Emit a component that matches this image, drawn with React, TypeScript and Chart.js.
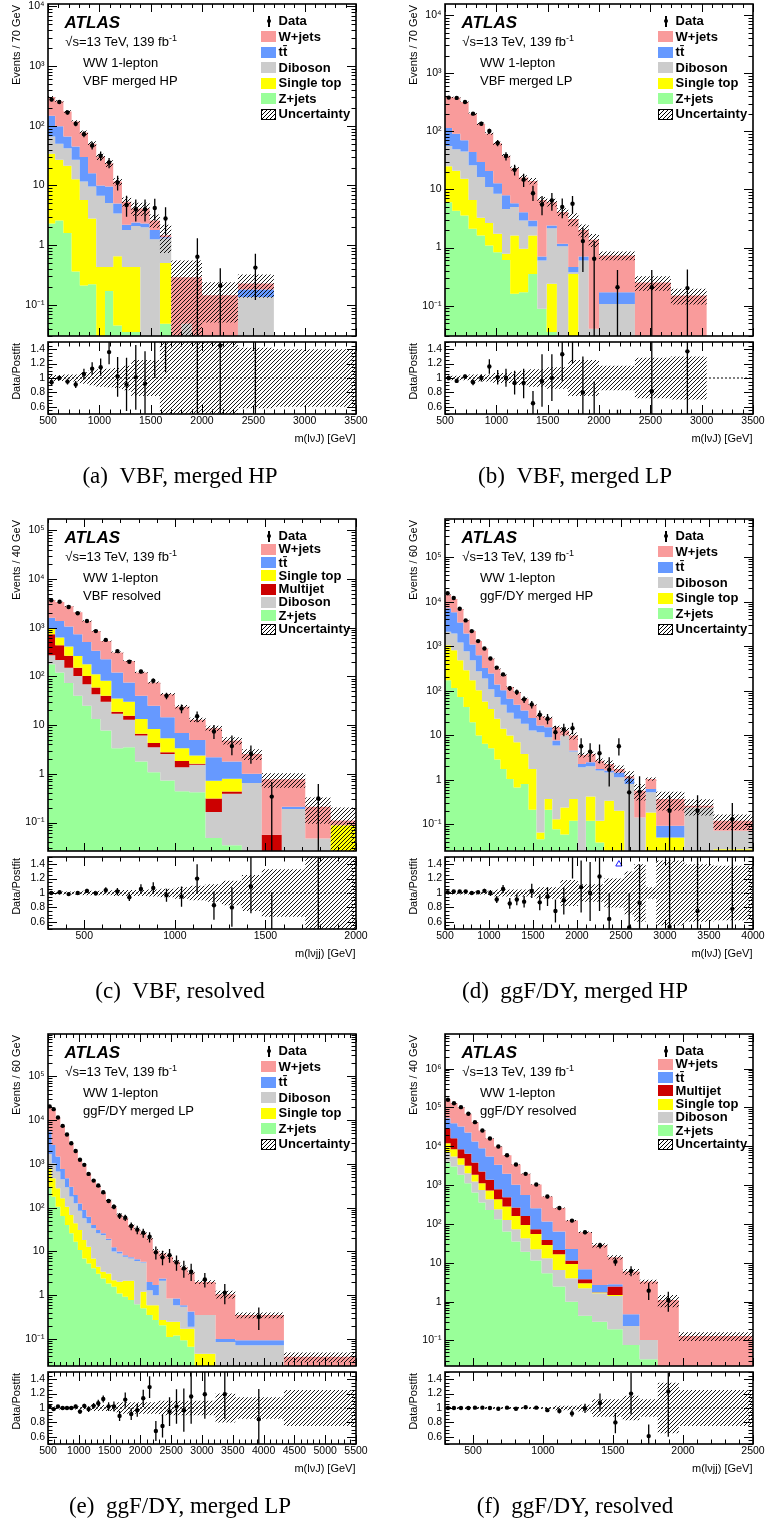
import React, { useEffect, useRef } from 'react';
import { Chart, registerables } from 'chart.js';

Chart.register(...registerables);

const SANS = "'Liberation Sans', Arial, Helvetica, sans-serif";
const SERIF = "'Liberation Serif', 'Times New Roman', Times, serif";
Chart.defaults.font.family = SANS;

const COLORS = {
  wjets: '#f99b9b',
  ttbar: '#6699ff',
  diboson: '#cccccc',
  stop: '#ffff00',
  zjets: '#99ff99',
  multijet: '#cc0000',
};

// ---------------- tick labels ----------------
const ratioYTicks = [0.6, 0.8, 1, 1.2, 1.4];
const xTicksAB = [500, 1000, 1500, 2000, 2500, 3000, 3500];
const xTicksC = [500, 1000, 1500, 2000];
const xTicksD = [500, 1000, 1500, 2000, 2500, 3000, 3500, 4000];
const xTicksE = [500, 1000, 1500, 2000, 2500, 3000, 3500, 4000, 4500, 5000, 5500];
const xTicksF = [500, 1000, 1500, 2000, 2500];

// ---------------- (a) VBF merged HP ----------------
// stacked (cumulative) heights, bottom -> top
const aEdges = [500, 570, 650, 730, 810, 890, 970, 1055, 1135, 1220, 1310, 1400, 1490, 1590, 1700, 1800, 1900, 2000, 2350, 2700, 3500];
const aZjets = [2.3, 2.6, 1.6, 0.36, 0.21, 0.22, 0.02, 0.17, 0.045, 0.035, 0.035, 0.02, 0.02, 0.048, 0.02, 0.02, 0.02, 0.02, 0.02, 0.01];
const aStop = [34, 27, 21.5, 12.7, 5.7, 2.8, 0.43, 0.43, 0.65, 0.43, 0.43, 0.02, 0.02, 0.5, 0.02, 0.02, 0.02, 0.02, 0.02, 0.01];
const aDiboson = [66, 50, 42, 27, 11.6, 9.6, 6.7, 5.1, 3.4, 1.8, 2.1, 2.0, 1.25, 1.3, 0.02, 0.048, 0.02, 0.02, 0.135, 0.01];
const aTtbar = [147, 98, 66, 45, 30, 16, 10, 9.6, 5, 2.2, 2.4, 2.3, 1.8, 1.35, 0.02, 0.048, 0.02, 0.02, 0.18, 0.01];
const aWjets = [303, 257, 174, 118, 77, 50, 30.5, 23.5, 11.6, 5.35, 4.1, 4.1, 2.6, 1.47, 0.29, 0.29, 0.29, 0.145, 0.227, 0.01];
const aRel = [0.04, 0.04, 0.05, 0.05, 0.08, 0.1, 0.12, 0.13, 0.14, 0.17, 0.25, 0.25, 0.25, 0.5, 0.9, 0.9, 0.9, 0.65, 0.42, 0.4];
const aDataX = [535, 610, 690, 770, 850, 930, 1013, 1095, 1178, 1265, 1355, 1445, 1540, 1645, 1955, 2178, 2520];
const aDataY = [275, 251, 167, 108, 72.5, 46.8, 31.3, 24.2, 11.2, 4.7, 4.0, 4.0, 4.2, 2.8, 0.64, 0.21, 0.42];
const aDataLo = [258, 235, 154, 98, 64, 40, 26, 19.5, 8.2, 3.0, 2.5, 2.5, 2.6, 1.5, 0.01, 0.01, 0.12];
const aDataHi = [292, 267, 180, 118, 81, 54, 37, 29, 14.5, 6.7, 5.8, 5.8, 6.0, 4.3, 1.3, 0.41, 0.72];
const aRatio = [0.94, 1.0, 0.95, 0.91, 1.055, 1.13, 1.15, 1.36, 1.02, 0.91, 1.01, 0.92, 1.9, 1.9, 2.2, 1.45, 1.85];
const aRatioLo = [0.9, 0.97, 0.91, 0.86, 0.98, 1.04, 1.03, 1.19, 0.74, 0.54, 0.56, 0.47, 1.0, 1.08, 0.0, 0.0, 0.0];
const aRatioHi = [0.98, 1.03, 0.99, 0.96, 1.13, 1.22, 1.27, 1.53, 1.29, 1.28, 1.46, 1.37, 2.8, 2.9, 4.5, 2.8, 3.2];

// ---------------- (b) VBF merged LP ----------------
const bEdges = [500, 570, 650, 730, 810, 890, 970, 1055, 1135, 1220, 1310, 1400, 1490, 1590, 1700, 1800, 1900, 2000, 2350, 2700, 3050];
const bZjets = [6.0, 4.3, 3.56, 2.1, 1.61, 1.08, 0.83, 0.61, 0.16, 0.17, 0.35, 0.088, 0.035, 0.02, 0.02, 0.02, 0.02, 0.02, 0.02, 0.02];
const bStop = [25, 21, 15.2, 6.6, 3.25, 2.63, 1.72, 0.78, 1.61, 0.95, 1.61, 0.088, 0.237, 0.02, 0.35, 0.02, 0.02, 0.02, 0.02, 0.02];
const bDiboson = [56, 49, 45, 26, 16.3, 11, 8.4, 4.6, 5.0, 2.92, 2.3, 0.6, 2.15, 1.05, 0.375, 0.6, 0.04, 0.107, 0.02, 0.02];
const bTtbar = [114, 91, 70, 44, 29.5, 20.7, 12.8, 7.9, 5.8, 4.06, 2.92, 0.7, 2.4, 1.16, 0.46, 0.7, 0.04, 0.17, 0.02, 0.02];
const bWjets = [390, 380, 320, 200, 135, 92, 62, 38, 23, 16, 14, 6.6, 6.0, 4.1, 3.1, 2.0, 1.36, 0.73, 0.25, 0.15];
const bRel = [0.03, 0.03, 0.03, 0.05, 0.05, 0.05, 0.07, 0.07, 0.08, 0.1, 0.12, 0.12, 0.15, 0.15, 0.25, 0.25, 0.25, 0.17, 0.28, 0.3];
const bDataX = [536, 614, 695, 773, 854, 932, 1013, 1094, 1178, 1266, 1357, 1445, 1541, 1642, 1742, 1843, 1953, 2180, 2514, 2861];
const bDataY = [380, 375, 320, 201, 135, 101, 63, 37.5, 21.8, 14.7, 8.6, 5.5, 6.45, 5.0, 5.66, 1.29, 0.64, 0.207, 0.207, 0.2];
const bDataLo = [362, 357, 303, 188, 124, 91, 55, 31.5, 17.3, 11, 6.3, 3.6, 4.3, 3.2, 3.8, 0.38, 0.01, 0.01, 0.01, 0.01];
const bDataHi = [398, 393, 337, 215, 146, 111, 71, 43.5, 26.5, 18.5, 11.5, 7.7, 8.7, 7.0, 7.7, 2.2, 1.3, 0.41, 0.41, 0.42];
const bRatio = [1.0, 0.96, 1.02, 0.94, 1.0, 1.16, 1.01, 1.0, 0.93, 0.93, 0.65, 0.955, 1.0, 1.33, 1.83, 0.8, 0.47, 0.28, 0.815, 1.37];
const bRatioLo = [0.97, 0.93, 0.99, 0.9, 0.95, 1.06, 0.91, 0.88, 0.77, 0.72, 0.48, 0.6, 0.68, 0.95, 1.2, 0.3, 0.0, 0.0, 0.0, 0.0];
const bRatioHi = [1.03, 0.99, 1.05, 0.98, 1.05, 1.26, 1.11, 1.13, 1.1, 1.13, 0.82, 1.33, 1.33, 1.9, 2.5, 1.3, 0.95, 0.56, 1.6, 2.7];

// ---------------- (c) VBF resolved ----------------
const cEdges = [300, 340, 390, 440, 490, 540, 590, 650, 715, 780, 850, 920, 1000, 1080, 1170, 1260, 1370, 1480, 1590, 1720, 1860, 2000];
const cZjets = [178, 120, 73, 40, 25, 13.4, 7.7, 3.35, 3.5, 1.79, 1.08, 0.73, 0.44, 0.42, 0.048, 0.034, 0.015, 0.015, 0.015, 0.015, 0.015];
const cDiboson = [270, 217, 150, 102, 69, 43, 30, 17, 12.9, 6.1, 3.5, 2.56, 1.37, 1.53, 0.165, 0.39, 0.65, 0.015, 0.19, 0.047, 0.015];
const cMultijet = [730, 435, 265, 150, 102, 59, 40, 18.8, 15.6, 6.6, 4.3, 2.77, 1.82, 1.6, 0.31, 0.435, 0.65, 0.056, 0.19, 0.047, 0.015];
const cStop = [950, 625, 410, 262, 178, 111, 81, 35, 30, 13.4, 8.3, 5.35, 3.35, 2.37, 0.72, 0.79, 0.65, 0.056, 0.19, 0.047, 0.088];
const cTtbar = [1590, 1370, 1050, 730, 510, 335, 225, 120, 75, 40, 25, 14.5, 6.9, 4.96, 2.19, 1.79, 1.0, 0.056, 0.21, 0.047, 0.088];
const cWjets = [3700, 3350, 2750, 2080, 1370, 855, 535, 310, 207, 120, 75, 43, 23.8, 12.9, 8.6, 4.8, 2.56, 0.77, 0.77, 0.21, 0.11];
const cRel = [0.02, 0.02, 0.02, 0.02, 0.03, 0.03, 0.03, 0.04, 0.04, 0.04, 0.05, 0.06, 0.08, 0.1, 0.12, 0.17, 0.25, 0.33, 0.33, 0.55, 0.85];
const cDataX = [318, 364, 414, 464, 515, 564, 619, 683, 749, 813, 881, 954, 1037, 1123, 1216, 1315, 1420, 1535, 1792];
const cDataY = [3650, 3390, 2660, 1980, 1370, 850, 560, 330, 200, 126, 81, 40, 22, 15.2, 7.4, 3.7, 2.57, 0.34, 0.31];
const cDataLo = [3590, 3330, 2610, 1935, 1333, 821, 536, 312, 186, 115, 72, 34, 17.5, 11.4, 5.2, 2.4, 1.6, 0.01, 0.01];
const cDataHi = [3710, 3450, 2710, 2025, 1407, 879, 584, 348, 214, 137, 90, 46, 26.5, 19, 10, 6.1, 3.8, 0.68, 0.62];
const cRatio = [1.0, 1.01, 0.985, 1.0, 1.03, 0.995, 1.04, 1.02, 0.94, 1.055, 1.07, 0.97, 0.95, 1.2, 0.83, 0.8, 1.09, 0.44, 1.55];
const cRatioLo = [0.98, 0.99, 0.965, 0.98, 1.0, 0.965, 1.0, 0.97, 0.89, 0.99, 0.99, 0.88, 0.81, 0.99, 0.63, 0.53, 0.72, 0.0, 0.0];
const cRatioHi = [1.02, 1.03, 1.005, 1.02, 1.06, 1.025, 1.08, 1.07, 0.99, 1.12, 1.15, 1.06, 1.09, 1.4, 1.02, 1.08, 1.5, 1.01, 3.0];

// ---------------- (d) ggF/DY merged HP ----------------
const dEdges = [500, 570, 640, 710, 780, 850, 920, 990, 1060, 1130, 1200, 1280, 1360, 1450, 1540, 1630, 1720, 1810, 1910, 2010, 2100, 2210, 2310, 2420, 2540, 2650, 2780, 2900, 3220, 3550, 4000];
const dZjets = [171, 115, 72, 43, 19.6, 9.8, 6.4, 5.1, 2.83, 1.74, 1.035, 0.67, 0.8, 0.21, 0.046, 0.21, 0.077, 0.059, 0.119, 0.015, 0.119, 0.0386, 0.015, 0.015, 0.015, 0.015, 0.015, 0.015, 0.015, 0.015];
const dStop = [1050, 813, 483, 287, 171, 102, 57, 39, 23.4, 13.9, 9.8, 6.95, 3.79, 1.74, 0.065, 0.37, 0.13, 0.238, 0.37, 0.015, 0.42, 0.119, 0.336, 0.2, 0.015, 0.015, 0.183, 0.05, 0.015, 0.0273];
const dDiboson = [2100, 1930, 1210, 771, 483, 273, 187, 107, 72, 48, 32, 23.4, 18, 12.7, 11.7, 9.0, 5.85, 9.8, 4.28, 1.9, 2.0, 1.6, 1.46, 1.13, 0.8, 0.141, 0.52, 0.05, 0.238, 0.071];
const dTtbar = [7080, 5750, 3420, 1930, 1090, 627, 324, 242, 137, 102, 66, 48, 36, 24.2, 16.5, 15.1, 7.6, 9.8, 4.5, 2.25, 2.46, 1.74, 1.6, 1.46, 1.07, 0.141, 0.62, 0.092, 0.238, 0.071];
const dWjets = [14130, 11490, 6840, 3850, 2180, 1300, 886, 527, 313, 222, 121, 93, 66, 48, 26.8, 24.2, 15.1, 12.7, 9.8, 3.6, 3.79, 2.68, 2.25, 1.74, 1.19, 0.565, 1.035, 0.37, 0.26, 0.119];
const dRel = [0.02, 0.02, 0.02, 0.02, 0.02, 0.02, 0.02, 0.03, 0.05, 0.05, 0.05, 0.05, 0.05, 0.05, 0.08, 0.08, 0.08, 0.18, 0.18, 0.12, 0.12, 0.12, 0.2, 0.2, 0.3, 0.4, 0.08, 0.45, 0.4, 0.38];
const dDataX = [530, 599, 667, 735, 804, 876, 948, 1016, 1088, 1160, 1236, 1316, 1399, 1486, 1577, 1665, 1755, 1850, 1949, 2047, 2149, 2256, 2366, 2476, 2593, 2711, 3052, 3370, 3765];
const dDataY = [15400, 12100, 6950, 3790, 2180, 1300, 886, 527, 330, 233, 113, 93, 63.8, 49.2, 28.7, 23.4, 11.7, 13.4, 14.4, 5.65, 4.28, 3.93, 1.68, 5.65, 0.52, 0.54, 0.2, 0.2, 0.13];
const dDataLo = [15200, 11900, 6820, 3700, 2110, 1250, 845, 495, 305, 212, 99, 80, 53, 40, 22, 17.5, 8, 9.5, 10.5, 3.5, 2.5, 2.3, 0.7, 3.5, 0.01, 0.01, 0.01, 0.01, 0.01];
const dDataHi = [15600, 12300, 7080, 3880, 2250, 1350, 927, 559, 355, 254, 127, 106, 75, 59, 36, 30, 16, 18, 19, 8.5, 6.6, 6.2, 3.2, 8.5, 1.2, 1.2, 0.45, 0.45, 0.3];
const dRatio = [1.01, 1.02, 1.02, 1.02, 1.0, 1.01, 1.03, 1.0, 0.91, 1.055, 0.855, 0.91, 0.88, 1.03, 0.87, 0.95, 0.75, 0.9, 1.55, 1.08, 1.0, 1.23, 0.64, 3.2, 0.52, 0.86, 0.53, 0.75, 0.78];
const dRatioLo = [1.0, 1.01, 1.01, 1.0, 0.98, 0.99, 1.0, 0.96, 0.86, 1.0, 0.78, 0.83, 0.8, 0.93, 0.76, 0.82, 0.59, 0.7, 1.2, 0.73, 0.61, 0.75, 0.5, 2.0, 0.0, 0.0, 0.0, 0.0, 0.0];
const dRatioHi = [1.02, 1.03, 1.03, 1.04, 1.02, 1.03, 1.06, 1.04, 0.96, 1.11, 0.93, 0.99, 0.96, 1.13, 0.98, 1.08, 0.91, 1.08, 1.9, 1.45, 1.43, 1.49, 1.0, 4.0, 1.0, 1.4, 1.5, 1.5, 1.5];
const dArrowX = [2476];
const dArrowY = [1.4];

// ---------------- (e) ggF/DY merged LP ----------------
const eEdges = [500, 560, 625, 700, 775, 845, 915, 985, 1055, 1125, 1200, 1280, 1355, 1440, 1530, 1615, 1710, 1800, 1900, 2000, 2100, 2200, 2300, 2420, 2530, 2645, 2765, 2880, 3220, 3540, 4330, 5500];
const eZjets = [300, 178, 105, 64, 40, 26, 16.6, 10.7, 6.9, 5.3, 4.1, 3.1, 2.4, 1.85, 1.55, 1.09, 0.92, 0.77, 0.62, 0.5, 0.35, 0.27, 0.205, 0.11, 0.12, 0.093, 0.066, 0.015, 0.015, 0.015, 0.015];
const eStop = [795, 470, 277, 164, 105, 68, 43.8, 30.8, 18.2, 12.8, 6.9, 4.46, 3.42, 3.13, 2.2, 2.02, 2.13, 2.13, 0.62, 1.19, 0.59, 0.59, 0.27, 0.245, 0.245, 0.17, 0.17, 0.046, 0.015, 0.015, 0.015];
const eDiboson = [1690, 1035, 667, 446, 292, 179, 126, 85, 57, 43.8, 33.6, 25.8, 23.7, 18.2, 10, 9.0, 7.55, 6.9, 6.0, 5.6, 1.3, 1.0, 2.13, 0.84, 0.59, 0.54, 0.19, 0.35, 0.085, 0.072, 0.015];
const eTtbar = [5500, 2700, 1470, 760, 470, 300, 195, 125, 88, 62, 40, 31, 26, 19.5, 12.5, 10, 8.2, 7.3, 6.6, 5.8, 2.0, 1.7, 2.4, 0.84, 0.84, 0.59, 0.42, 0.35, 0.1, 0.093, 0.015];
const eWjets = [20000, 17500, 11200, 7200, 4600, 2900, 1950, 1250, 920, 600, 410, 310, 220, 145, 102, 68, 58, 40, 32, 26, 20, 10.5, 9.0, 7.5, 5.8, 4.3, 3.3, 2.0, 1.05, 0.35, 0.039];
const eRel = [0.02, 0.02, 0.02, 0.02, 0.02, 0.02, 0.02, 0.02, 0.02, 0.02, 0.04, 0.04, 0.04, 0.04, 0.04, 0.08, 0.08, 0.08, 0.08, 0.08, 0.08, 0.08, 0.1, 0.1, 0.1, 0.1, 0.1, 0.1, 0.2, 0.15, 0.25];
const eDataX = [527, 592, 662, 738, 808, 878, 949, 1019, 1089, 1159, 1241, 1316, 1397, 1484, 1570, 1662, 1754, 1851, 1949, 2046, 2149, 2251, 2359, 2473, 2586, 2705, 2824, 3046, 3370, 3922];
const eDataY = [20600, 17800, 11500, 7400, 4700, 2960, 1970, 1240, 950, 590, 415, 320, 225, 142, 105, 65, 59, 38, 31.4, 26.8, 21.6, 9.5, 7.3, 8.2, 5.6, 4.08, 3.42, 2.28, 1.13, 0.32];
const eDataLo = [20400, 17600, 11350, 7280, 4600, 2890, 1915, 1195, 910, 560, 390, 298, 206, 127, 92, 55, 49.5, 30.5, 24.5, 20.5, 16, 6.5, 4.8, 5.5, 3.6, 2.5, 2.1, 1.5, 0.62, 0.16];
const eDataHi = [20800, 18000, 11650, 7520, 4800, 3030, 2025, 1285, 990, 620, 440, 342, 244, 157, 118, 75, 68.5, 45.5, 38.5, 33, 27.5, 13, 10.3, 11.4, 8.1, 6.1, 5.2, 3.2, 1.8, 0.52];
const eRatio = [1.02, 0.985, 1.02, 1.0, 1.0, 1.0, 1.02, 0.95, 1.03, 0.985, 1.03, 1.065, 1.125, 1.02, 1.02, 0.89, 1.117, 0.915, 0.97, 1.135, 1.29, 0.68, 0.75, 0.95, 1.02, 0.97, 1.16, 1.19, 1.19, 0.845];
const eRatioLo = [1.01, 0.975, 1.01, 0.985, 0.98, 0.98, 0.995, 0.92, 1.0, 0.945, 0.99, 1.015, 1.075, 0.96, 0.95, 0.82, 1.017, 0.835, 0.88, 1.015, 1.14, 0.54, 0.59, 0.75, 0.78, 0.67, 0.78, 0.85, 0.85, 0.425];
const eRatioHi = [1.03, 0.995, 1.03, 1.015, 1.02, 1.02, 1.045, 0.98, 1.06, 1.025, 1.07, 1.115, 1.175, 1.08, 1.09, 0.96, 1.217, 0.995, 1.06, 1.255, 1.44, 0.82, 0.91, 1.15, 1.26, 1.27, 1.54, 1.53, 1.53, 1.265];

// ---------------- (f) ggF/DY resolved ----------------
const fEdges = [300, 340, 390, 440, 490, 540, 590, 650, 710, 775, 840, 910, 990, 1070, 1160, 1250, 1350, 1460, 1570, 1690, 1820, 1970, 2500];
const fZjets = [4060, 3010, 1840, 1120, 645, 356, 230, 132, 63.7, 35.2, 19.4, 11.4, 5.37, 2.44, 1.0, 0.43, 0.305, 0.194, 0.076, 0.0327, 0.01, 0.01];
const fDiboson = [6920, 5460, 3330, 2030, 1240, 755, 434, 240, 127, 73.1, 42.9, 22.3, 13.1, 6.55, 3.99, 2.21, 1.64, 1.4, 0.236, 0.103, 0.01, 0.01];
const fStop = [12050, 8440, 4940, 3140, 1840, 1120, 726, 434, 281, 161, 94.6, 55.4, 28.9, 16.6, 9.35, 2.97, 1.71, 1.49, 0.236, 0.103, 0.01, 0.01];
const fMultijet = [29300, 16200, 8440, 6400, 3820, 2240, 1370, 785, 488, 265, 161, 73.1, 38.8, 21.5, 11.4, 3.76, 1.74, 2.44, 0.236, 0.103, 0.01, 0.01];
const fTtbar = [53100, 39400, 32400, 22700, 13300, 8950, 5460, 3330, 1950, 1016, 561, 254, 115, 63.7, 22.8, 6.81, 2.69, 2.8, 0.472, 0.103, 0.01, 0.01];
const fWjets = [164000, 129000, 102000, 68700, 41900, 25500, 15900, 9880, 5900, 3400, 1950, 1036, 508, 259, 122, 61.2, 28.3, 13.9, 5.93, 3.28, 1.1, 0.13];
const fRel = [0.015, 0.015, 0.015, 0.015, 0.015, 0.015, 0.015, 0.015, 0.015, 0.015, 0.015, 0.015, 0.015, 0.03, 0.03, 0.05, 0.12, 0.12, 0.17, 0.12, 0.35, 0.25];
const fDataX = [321, 364, 414, 467, 514, 567, 621, 681, 743, 807, 876, 952, 1031, 1117, 1207, 1300, 1407, 1517, 1629, 1755, 1895];
const fDataY = [158000, 128000, 102000, 68700, 41900, 25500, 15900, 9880, 5900, 3400, 1950, 1036, 508, 259, 122, 61.2, 28.3, 10.7, 6.17, 1.92, 1.1];
const fDataLo = [157000, 127000, 101000, 68000, 41400, 25100, 15600, 9650, 5740, 3280, 1860, 970, 462, 226, 111, 54, 23.5, 8.4, 4.5, 1.1, 0.55];
const fDataHi = [159000, 129000, 103000, 69400, 42400, 25900, 16200, 10100, 6060, 3520, 2040, 1100, 554, 292, 133, 68, 33, 13.5, 8.2, 3.0, 1.8];
const fRatio = [1.0, 1.0, 1.0, 1.0, 1.005, 1.005, 1.0, 0.99, 1.005, 0.99, 1.01, 1.005, 0.97, 0.96, 0.925, 0.995, 1.07, 0.8, 1.2, 0.61, 1.23];
const fRatioLo = [0.995, 0.995, 0.995, 0.995, 0.998, 0.998, 0.993, 0.982, 0.995, 0.978, 0.995, 0.985, 0.945, 0.925, 0.88, 0.93, 0.95, 0.65, 0.91, 0.42, 0.6];
const fRatioHi = [1.005, 1.005, 1.005, 1.005, 1.012, 1.012, 1.007, 0.998, 1.015, 1.002, 1.025, 1.025, 0.995, 0.995, 0.97, 1.06, 1.2, 0.93, 1.49, 0.77, 1.49];

// ---------------- layout constants ----------------
const PLOT_W = 308;
const MAIN_H = 332;
const RATIO_GAP = 6;
const RATIO_H = 72;
const YAX = 47;
const PAD_T = 12;
const PAD_R = 16;
const XAX_H = 16;

type Layer = { label: string; color: string; tops: number[] };
type PanelDef = {
  left: number; top: number; captionX: number;
  xMin: number; xMax: number; yMin: number; yMax: number; xTicks: number[];
  edges: number[]; layers: Layer[]; rel: number[];
  dataX: number[]; dataY: number[]; dataLo: number[]; dataHi: number[];
  ratio: number[]; ratioLo: number[]; ratioHi: number[];
  arrowX?: number[]; arrowY?: number[];
  yTitle: string; xTitle: string; region: string; caption: string;
};

const TT = 't\u0074\u0304';

const panels: PanelDef[] = [
  {
    left: 48, top: 4, captionX: 180, xMin: 500, xMax: 3500, yMin: 0.03, yMax: 1.1e4, xTicks: xTicksAB,
    edges: aEdges, rel: aRel,
    layers: [
      { label: 'Z+jets', color: COLORS.zjets, tops: aZjets },
      { label: 'Single top', color: COLORS.stop, tops: aStop },
      { label: 'Diboson', color: COLORS.diboson, tops: aDiboson },
      { label: TT, color: COLORS.ttbar, tops: aTtbar },
      { label: 'W+jets', color: COLORS.wjets, tops: aWjets },
    ],
    dataX: aDataX, dataY: aDataY, dataLo: aDataLo, dataHi: aDataHi,
    ratio: aRatio, ratioLo: aRatioLo, ratioHi: aRatioHi,
    yTitle: 'Events / 70 GeV', xTitle: 'm(l\u03bdJ) [GeV]', region: 'VBF merged HP', caption: '(a)\u00a0\u00a0VBF, merged HP',
  },
  {
    left: 445, top: 4, captionX: 575, xMin: 500, xMax: 3500, yMin: 0.03, yMax: 1.55e4, xTicks: xTicksAB,
    edges: bEdges, rel: bRel,
    layers: [
      { label: 'Z+jets', color: COLORS.zjets, tops: bZjets },
      { label: 'Single top', color: COLORS.stop, tops: bStop },
      { label: 'Diboson', color: COLORS.diboson, tops: bDiboson },
      { label: TT, color: COLORS.ttbar, tops: bTtbar },
      { label: 'W+jets', color: COLORS.wjets, tops: bWjets },
    ],
    dataX: bDataX, dataY: bDataY, dataLo: bDataLo, dataHi: bDataHi,
    ratio: bRatio, ratioLo: bRatioLo, ratioHi: bRatioHi,
    yTitle: 'Events / 70 GeV', xTitle: 'm(l\u03bdJ) [GeV]', region: 'VBF merged LP', caption: '(b)\u00a0\u00a0VBF, merged LP',
  },
  {
    left: 48, top: 519, captionX: 180, xMin: 300, xMax: 2000, yMin: 0.026, yMax: 1.7e5, xTicks: xTicksC,
    edges: cEdges, rel: cRel,
    layers: [
      { label: 'Z+jets', color: COLORS.zjets, tops: cZjets },
      { label: 'Diboson', color: COLORS.diboson, tops: cDiboson },
      { label: 'Multijet', color: COLORS.multijet, tops: cMultijet },
      { label: 'Single top', color: COLORS.stop, tops: cStop },
      { label: TT, color: COLORS.ttbar, tops: cTtbar },
      { label: 'W+jets', color: COLORS.wjets, tops: cWjets },
    ],
    dataX: cDataX, dataY: cDataY, dataLo: cDataLo, dataHi: cDataHi,
    ratio: cRatio, ratioLo: cRatioLo, ratioHi: cRatioHi,
    yTitle: 'Events / 40 GeV', xTitle: 'm(l\u03bdjj) [GeV]', region: 'VBF resolved', caption: '(c)\u00a0\u00a0VBF, resolved',
  },
  {
    left: 445, top: 519, captionX: 575, xMin: 500, xMax: 4000, yMin: 0.025, yMax: 7.2e5, xTicks: xTicksD,
    edges: dEdges, rel: dRel,
    layers: [
      { label: 'Z+jets', color: COLORS.zjets, tops: dZjets },
      { label: 'Single top', color: COLORS.stop, tops: dStop },
      { label: 'Diboson', color: COLORS.diboson, tops: dDiboson },
      { label: TT, color: COLORS.ttbar, tops: dTtbar },
      { label: 'W+jets', color: COLORS.wjets, tops: dWjets },
    ],
    dataX: dDataX, dataY: dDataY, dataLo: dDataLo, dataHi: dDataHi,
    ratio: dRatio, ratioLo: dRatioLo, ratioHi: dRatioHi, arrowX: dArrowX, arrowY: dArrowY,
    yTitle: 'Events / 60 GeV', xTitle: 'm(l\u03bdJ) [GeV]', region: 'ggF/DY merged HP', caption: '(d)\u00a0\u00a0ggF/DY, merged HP',
  },
  {
    left: 48, top: 1034, captionX: 180, xMin: 500, xMax: 5500, yMin: 0.024, yMax: 9.3e5, xTicks: xTicksE,
    edges: eEdges, rel: eRel,
    layers: [
      { label: 'Z+jets', color: COLORS.zjets, tops: eZjets },
      { label: 'Single top', color: COLORS.stop, tops: eStop },
      { label: 'Diboson', color: COLORS.diboson, tops: eDiboson },
      { label: TT, color: COLORS.ttbar, tops: eTtbar },
      { label: 'W+jets', color: COLORS.wjets, tops: eWjets },
    ],
    dataX: eDataX, dataY: eDataY, dataLo: eDataLo, dataHi: eDataHi,
    ratio: eRatio, ratioLo: eRatioLo, ratioHi: eRatioHi,
    yTitle: 'Events / 60 GeV', xTitle: 'm(l\u03bdJ) [GeV]', region: 'ggF/DY merged LP', caption: '(e)\u00a0\u00a0ggF/DY, merged LP',
  },
  {
    left: 445, top: 1034, captionX: 575, xMin: 300, xMax: 2500, yMin: 0.022, yMax: 7.8e6, xTicks: xTicksF,
    edges: fEdges, rel: fRel,
    layers: [
      { label: 'Z+jets', color: COLORS.zjets, tops: fZjets },
      { label: 'Diboson', color: COLORS.diboson, tops: fDiboson },
      { label: 'Single top', color: COLORS.stop, tops: fStop },
      { label: 'Multijet', color: COLORS.multijet, tops: fMultijet },
      { label: TT, color: COLORS.ttbar, tops: fTtbar },
      { label: 'W+jets', color: COLORS.wjets, tops: fWjets },
    ],
    dataX: fDataX, dataY: fDataY, dataLo: fDataLo, dataHi: fDataHi,
    ratio: fRatio, ratioLo: fRatioLo, ratioHi: fRatioHi,
    yTitle: 'Events / 40 GeV', xTitle: 'm(l\u03bdjj) [GeV]', region: 'ggF/DY resolved', caption: '(f)\u00a0\u00a0ggF/DY, resolved',
  },
];

// ---------------- helpers ----------------
type Pt = { x: number; y: number | null };

function steps(edges: number[], vals: number[]): Pt[] {
  const pts: Pt[] = [];
  vals.forEach((v, i) => {
    pts.push({ x: edges[i], y: v });
    pts.push({ x: edges[i + 1], y: v });
  });
  return pts;
}

function errorBars(xs: number[], lo: number[], hi: number[]): Pt[] {
  const pts: Pt[] = [];
  xs.forEach((x, i) => {
    pts.push({ x, y: lo[i] }, { x, y: hi[i] }, { x, y: null });
  });
  return pts;
}

function markers(xs: number[], ys: number[]): Pt[] {
  return xs.map((x, i) => ({ x, y: ys[i] }));
}

const SUP: Record<string, string> = { '-': '\u207b', '0': '\u2070', '1': '\u00b9', '2': '\u00b2', '3': '\u00b3', '4': '\u2074', '5': '\u2075', '6': '\u2076', '7': '\u2077', '8': '\u2078', '9': '\u2079' };

function decadeLabel(v: number): string {
  const e = Math.round(Math.log10(v));
  if (e === 0) return '1';
  if (e === 1) return '10';
  return '10' + String(e).split('').map((c) => SUP[c]).join('');
}

function decadesIn(min: number, max: number): number[] {
  const out: number[] = [];
  for (let e = Math.ceil(Math.log10(min)); Math.pow(10, e) <= max; e++) out.push(Math.pow(10, e));
  return out;
}

type TickMark = { v: number; major: boolean };

function xMarks(min: number, max: number): TickMark[] {
  const out: TickMark[] = [];
  for (let v = Math.ceil(min / 100) * 100; v <= max + 1e-6; v += 100) out.push({ v, major: v % 500 === 0 });
  return out;
}

function logMarks(min: number, max: number): TickMark[] {
  const out: TickMark[] = [];
  for (let e = Math.floor(Math.log10(min)); e <= Math.ceil(Math.log10(max)); e++) {
    for (let m = 1; m <= 9; m++) {
      const v = m * Math.pow(10, e);
      if (v >= min && v <= max) out.push({ v, major: m === 1 });
    }
  }
  return out;
}

function ratioMarks(): TickMark[] {
  const out: TickMark[] = [];
  for (let k = 10; k <= 30; k++) out.push({ v: k * 0.05, major: k % 4 === 0 });
  return out;
}

function framePlugin(xt: TickMark[], yt: TickMark[], xLen: number[], yLen: number[]) {
  return {
    id: 'atlasFrame',
    afterDatasetsDraw(chart: any) {
      const { ctx, chartArea: a, scales } = chart;
      const sx = scales.x;
      const sy = scales.y;
      ctx.save();
      ctx.strokeStyle = '#000';
      ctx.lineWidth = 1;
      ctx.beginPath();
      for (const t of xt) {
        const px = Math.round(sx.getPixelForValue(t.v)) + 0.5;
        const l = t.major ? xLen[0] : xLen[1];
        ctx.moveTo(px, a.bottom);
        ctx.lineTo(px, a.bottom - l);
        ctx.moveTo(px, a.top);
        ctx.lineTo(px, a.top + l);
      }
      for (const t of yt) {
        const py = Math.round(sy.getPixelForValue(t.v)) + 0.5;
        const l = t.major ? yLen[0] : yLen[1];
        ctx.moveTo(a.left, py);
        ctx.lineTo(a.left + l, py);
        ctx.moveTo(a.right, py);
        ctx.lineTo(a.right - l, py);
      }
      ctx.stroke();
      ctx.lineWidth = 1.6;
      ctx.strokeRect(a.left, a.top, a.right - a.left, a.bottom - a.top);
      ctx.restore();
    },
  };
}

function makeHatch(ctx: CanvasRenderingContext2D): CanvasPattern {
  const tile = document.createElement('canvas');
  tile.width = 4;
  tile.height = 4;
  const g = tile.getContext('2d')!;
  g.strokeStyle = '#000';
  g.lineWidth = 0.9;
  g.beginPath();
  g.moveTo(-1, 5); g.lineTo(5, -1);
  g.moveTo(-1, 1); g.lineTo(1, -1);
  g.moveTo(3, 5); g.lineTo(5, 3);
  g.stroke();
  return ctx.createPattern(tile, 'repeat')!;
}

const tickFont = { family: SANS, size: 10.5 };

// ---------------- text helpers ----------------
function Txt(props: { x: number; cy: number; size: number; bold?: boolean; italic?: boolean; align?: string; family?: string; children: any }) {
  const { x, cy, size, bold, italic, align = 'left', family = SANS, children } = props;
  const tx = align === 'left' ? '0' : align === 'right' ? '-100%' : '-50%';
  return (
    <div
      style={{
        position: 'absolute', left: x, top: cy, transform: `translate(${tx}, -50%)`, whiteSpace: 'nowrap',
        fontFamily: family, fontSize: size, fontWeight: bold ? 'bold' : 'normal', fontStyle: italic ? 'italic' : 'normal',
        lineHeight: 1.15, color: '#000',
      }}
    >
      {children}
    </div>
  );
}

function VTitle(props: { cx: number; top: number; children: any }) {
  const W = 160;
  const H = 13;
  return (
    <div
      style={{
        position: 'absolute', left: props.cx - H / 2 - W, top: props.top, width: W, height: H, lineHeight: `${H}px`,
        textAlign: 'right', transformOrigin: 'right top', transform: 'rotate(-90deg)', fontFamily: SANS, fontSize: 11,
        whiteSpace: 'nowrap', color: '#000',
      }}
    >
      {props.children}
    </div>
  );
}

// ---------------- panel ----------------
function Panel({ p }: { p: PanelDef }) {
  const mainRef = useRef<HTMLCanvasElement>(null);
  const ratioRef = useRef<HTMLCanvasElement>(null);
  const L = p.left;
  const T = p.top;
  const RT = T + MAIN_H + RATIO_GAP;

  useEffect(() => {
    const mc = mainRef.current!;
    const rc = ratioRef.current!;
    const hatchM = makeHatch(mc.getContext('2d')!);
    const hatchR = makeHatch(rc.getContext('2d')!);
    const total = p.layers[p.layers.length - 1].tops;

    const mainSets: any[] = p.layers.map((ly, k) => ({
      data: steps(p.edges, ly.tops), backgroundColor: ly.color, borderWidth: 0, pointRadius: 0,
      fill: k === 0 ? 'start' : '-1', order: 50 - k,
    }));
    mainSets.push({ data: steps(p.edges, total.map((t, i) => t * (1 + p.rel[i]))), borderWidth: 0, pointRadius: 0, fill: false, order: 12 });
    mainSets.push({ data: steps(p.edges, total.map((t, i) => t * Math.max(1 - p.rel[i], 0.02))), borderWidth: 0, pointRadius: 0, fill: '-1', backgroundColor: hatchM, order: 11 });
    mainSets.push({ data: errorBars(p.dataX, p.dataLo, p.dataHi), borderColor: '#000', borderWidth: 1.3, pointRadius: 0, fill: false, spanGaps: false, order: 2 });
    mainSets.push({ data: markers(p.dataX, p.dataY), showLine: false, borderWidth: 0, pointRadius: 2.2, pointBackgroundColor: '#000', pointBorderWidth: 0, order: 1 });

    const decades = decadesIn(p.yMin, p.yMax);
    const common = {
      animation: false, responsive: true, maintainAspectRatio: false, events: [],
      plugins: { legend: { display: false }, tooltip: { enabled: false } },
    };

    const main = new Chart(mc, {
      type: 'line',
      data: { datasets: mainSets },
      options: {
        ...common,
        layout: { padding: { left: 0, top: PAD_T, right: PAD_R, bottom: PAD_T } },
        scales: {
          x: { type: 'linear', min: p.xMin, max: p.xMax, display: false },
          y: {
            type: 'logarithmic', min: p.yMin, max: p.yMax,
            grid: { display: false, drawTicks: false }, border: { display: false },
            afterFit: (s: any) => { s.width = YAX; },
            afterBuildTicks: (s: any) => { s.ticks = decades.map((v) => ({ value: v, major: true })); },
            ticks: { autoSkip: false, padding: 3.5, color: '#000', font: tickFont, callback: (v: any) => decadeLabel(Number(v)) },
          },
        },
      } as any,
      plugins: [framePlugin(xMarks(p.xMin, p.xMax), logMarks(p.yMin, p.yMax), [8, 4], [9, 4.5])],
    } as any);

    const ratioSets: any[] = [
      { data: steps(p.edges, p.rel.map((r) => 1 + r)), borderWidth: 0, pointRadius: 0, fill: false, order: 12 },
      { data: steps(p.edges, p.rel.map((r) => 1 - r)), borderWidth: 0, pointRadius: 0, fill: '-1', backgroundColor: hatchR, order: 11 },
      { data: [{ x: p.xMin, y: 1 }, { x: p.xMax, y: 1 }], borderColor: '#000', borderWidth: 1, borderDash: [2, 2], pointRadius: 0, fill: false, order: 5 },
      { data: errorBars(p.dataX, p.ratioLo, p.ratioHi), borderColor: '#000', borderWidth: 1.3, pointRadius: 0, fill: false, spanGaps: false, order: 2 },
      { data: markers(p.dataX, p.ratio), showLine: false, borderWidth: 0, pointRadius: 2.2, pointBackgroundColor: '#000', pointBorderWidth: 0, order: 1 },
    ];
    if (p.arrowX && p.arrowY) {
      ratioSets.push({
        data: markers(p.arrowX, p.arrowY), showLine: false, borderWidth: 0, pointStyle: 'triangle', pointRadius: 3.6,
        pointBorderColor: '#1a1aff', pointBackgroundColor: 'rgba(0,0,0,0)', pointBorderWidth: 1, order: 0,
      });
    }

    const ratio = new Chart(rc, {
      type: 'line',
      data: { datasets: ratioSets },
      options: {
        ...common,
        layout: { padding: { left: 0, top: PAD_T, right: PAD_R, bottom: 2 } },
        scales: {
          x: {
            type: 'linear', min: p.xMin, max: p.xMax,
            grid: { display: false, drawTicks: false }, border: { display: false },
            afterFit: (s: any) => { s.height = XAX_H; },
            afterBuildTicks: (s: any) => { s.ticks = p.xTicks.map((v) => ({ value: v })); },
            ticks: { autoSkip: false, maxRotation: 0, minRotation: 0, padding: 1, color: '#000', font: tickFont, callback: (v: any) => String(v) },
          },
          y: {
            type: 'linear', min: 0.5, max: 1.5,
            grid: { display: false, drawTicks: false }, border: { display: false },
            afterFit: (s: any) => { s.width = YAX; },
            afterBuildTicks: (s: any) => { s.ticks = ratioYTicks.map((v) => ({ value: v })); },
            ticks: {
              autoSkip: false, padding: 3, color: '#000', font: tickFont,
              callback: (v: any) => (Math.abs(Number(v) - 1) < 1e-9 ? '1' : Number(v).toFixed(1)),
            },
          },
        },
      } as any,
      plugins: [framePlugin(xMarks(p.xMin, p.xMax), ratioMarks(), [9, 4.5], [9, 4.5])],
    } as any);

    return () => {
      main.destroy();
      ratio.destroy();
    };
  }, []);

  const legend: { kind: string; label: string; color?: string }[] = [
    { kind: 'data', label: 'Data' },
    ...[...p.layers].reverse().map((l) => ({ kind: 'fill', label: l.label, color: l.color })),
    { kind: 'hatch', label: 'Uncertainty' },
  ];
  const y0 = T + 17;
  const y1 = T + 110;
  const step = (y1 - y0) / (legend.length - 1);
  const boxX = L + 213.3;
  const textX = L + 230.6;

  return (
    <>
      <div style={{ position: 'absolute', left: L - YAX, top: T - PAD_T, width: YAX + PLOT_W + PAD_R, height: PAD_T + MAIN_H + PAD_T }}>
        <canvas ref={mainRef} />
      </div>
      <div style={{ position: 'absolute', left: L - YAX, top: RT - PAD_T, width: YAX + PLOT_W + PAD_R, height: PAD_T + RATIO_H + XAX_H + 2 }}>
        <canvas ref={ratioRef} />
      </div>

      <Txt x={L + 16.6} cy={T + 19.3} size={17} bold italic>ATLAS</Txt>
      <Txt x={L + 17.3} cy={T + 38.3} size={13}>
        {'\u221as=13 TeV, 139 fb'}
        <sup style={{ fontSize: 9, verticalAlign: 'baseline', position: 'relative', top: -5 }}>-1</sup>
      </Txt>
      <Txt x={L + 35} cy={T + 59.3} size={13}>WW 1-lepton</Txt>
      <Txt x={L + 35} cy={T + 77} size={13}>{p.region}</Txt>

      {legend.map((e, i) => {
        const cy = y0 + i * step;
        let marker: any = null;
        if (e.kind === 'data') {
          marker = (
            <>
              <div style={{ position: 'absolute', left: boxX + 7, top: cy - 5.5, width: 1.3, height: 11, background: '#000' }} />
              <div style={{ position: 'absolute', left: boxX + 5.2, top: cy - 2.3, width: 4.6, height: 4.6, borderRadius: '50%', background: '#000' }} />
            </>
          );
        } else if (e.kind === 'fill') {
          marker = <div style={{ position: 'absolute', left: boxX, top: cy - 5.5, width: 15, height: 11, background: e.color }} />;
        } else {
          marker = (
            <div
              style={{
                position: 'absolute', left: boxX, top: cy - 5.5, width: 13, height: 9, border: '1px solid #000',
                background: 'repeating-linear-gradient(135deg, #000 0px, #000 0.9px, #fff 0.9px, #fff 2.83px)',
              }}
            />
          );
        }
        return (
          <React.Fragment key={i}>
            {marker}
            <Txt x={textX} cy={cy} size={13} bold>{e.label}</Txt>
          </React.Fragment>
        );
      })}

      <VTitle cx={L - 31.7} top={T + 1}>{p.yTitle}</VTitle>
      <VTitle cx={L - 31.7} top={RT + 1}>Data/Postfit</VTitle>
      <Txt x={L + PLOT_W - 0.5} cy={RT + RATIO_H + 24} size={11} align="right">{p.xTitle}</Txt>
      <Txt x={p.captionX} cy={T + 471.7} size={23} align="center" family={SERIF}>{p.caption}</Txt>
    </>
  );
}

export default function App() {
  return (
    <div style={{ position: 'absolute', left: 0, top: 0, width: 766, height: 1523, background: '#fff', overflow: 'hidden' }}>
      {panels.map((p, i) => (
        <Panel key={i} p={p} />
      ))}
    </div>
  );
}
